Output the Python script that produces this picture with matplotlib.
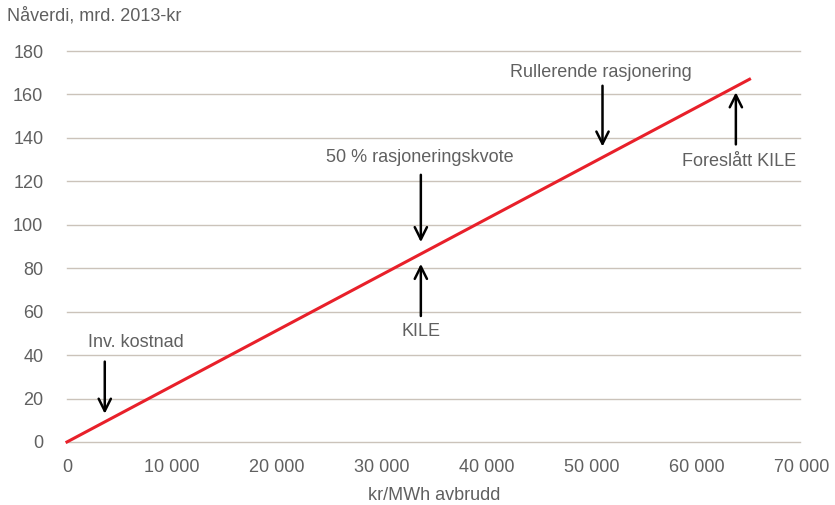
import matplotlib.pyplot as plt
import numpy as np

plt.rcParams['font.family'] = ['Liberation Sans', 'DejaVu Sans']

# data
line_x = [0, 65000]
line_y = [0, 167]

labels = ['Inv. kostnad', '50 % rasjoneringskvote', 'KILE',
          'Rullerende rasjonering', 'Foreslått KILE']
arrow_x = [3600, 33700, 33700, 51000, 63700]
arrow_from = [37, 123, 58, 164, 137]
arrow_to = [13, 92, 82, 136, 161]
label_x = [6600, 33600, 33700, 50850, 64000]
label_y = [46, 131, 51, 170, 129]

yticks = [0, 20, 40, 60, 80, 100, 120, 140, 160, 180]
xticks = [0, 10000, 20000, 30000, 40000, 50000, 60000, 70000]

grey = '#606060'

fig = plt.figure(figsize=(8.35, 5.05), dpi=100)
ax = fig.add_axes([0.0802, 0.1248, 0.8803, 0.7742])

for y in yticks:
    ax.axhline(y, xmin=0, xmax=(800 - 67) / 735, color='#cbc3ba', lw=1,
               zorder=1, clip_on=False)

ax.plot(line_x, line_y, color='#e8202a', lw=2.2, zorder=3, clip_on=False)

for x, y0, y1 in zip(arrow_x, arrow_from, arrow_to):
    ax.annotate('', xy=(x, y1), xytext=(x, y0),
                arrowprops=dict(arrowstyle='->', color='black', lw=1.8,
                                mutation_scale=22, shrinkA=0, shrinkB=0),
                zorder=4)
for lab, lx, ly in zip(labels, label_x, label_y):
    ax.text(lx, ly, lab, ha='center', va='center', fontsize=13, color=grey)

ax.set_xlim(0, 70000)
ax.set_ylim(0, 180)
ax.set_xticks(xticks)
ax.set_xticklabels([f'{v:,}'.replace(',', ' ') for v in xticks])
ax.set_yticks(yticks)
ax.tick_params(length=0, labelsize=13, labelcolor=grey)
ax.tick_params(axis='x', pad=12)
ax.tick_params(axis='y', pad=17)
for s in ax.spines.values():
    s.set_visible(False)

ax.set_xlabel('kr/MWh avbrudd', fontsize=13, color=grey, labelpad=8)
fig.text(7 / 835, 1 - 16 / 505, 'Nåverdi, mrd. 2013-kr', fontsize=13,
         color=grey, ha='left', va='center')

fig.savefig('out.png', dpi=100)
